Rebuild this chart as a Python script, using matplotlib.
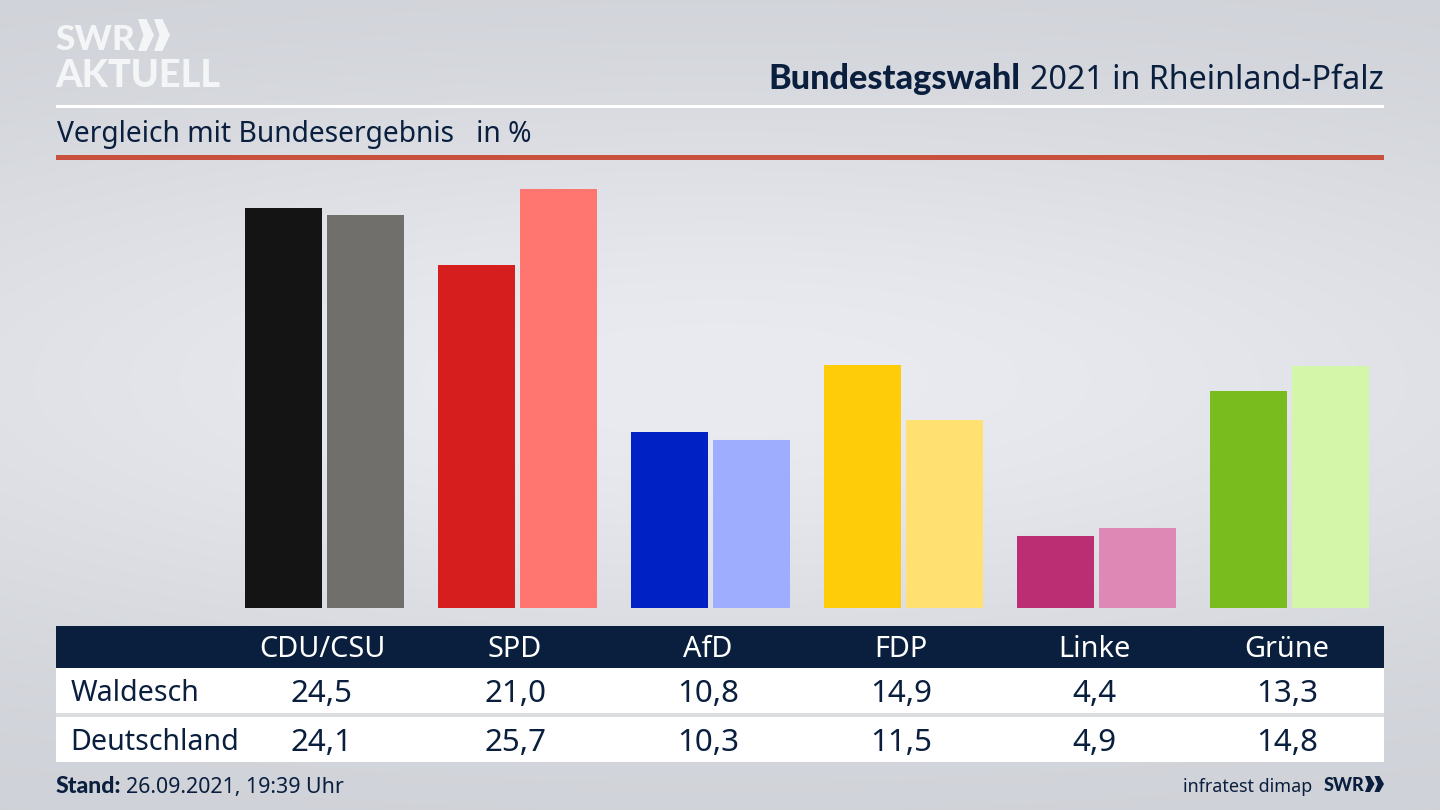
import matplotlib
matplotlib.use('Agg')
import matplotlib.pyplot as plt
import numpy as np
from matplotlib.patches import Rectangle, Polygon

parties = ['CDU/CSU', 'SPD', 'AfD', 'FDP', 'Linke', 'Grüne']
waldesch = [24.5, 21.0, 10.8, 14.9, 4.4, 13.3]
deutschland = [24.1, 25.7, 10.3, 11.5, 4.9, 14.8]
colors_waldesch = ['#141414', '#d61e1e', '#0022c4', '#ffcc0a', '#bb2e74', '#78bc1e']
colors_deutschland = ['#706f6c', '#ff7570', '#9fadff', '#ffe070', '#de88b6', '#d3f6a8']

NAVY = '#0a1f3e'
BOLD = 'Lato'
plt.rcParams['font.family'] = ['Noto Sans', 'DejaVu Sans']


def fmt(v):
    return f'{v:.1f}'.replace('.', ',')


def chevrons(ax, x, y, w, h, color):
    # double arrow of the SWR logo
    for dx in (0, w * 0.5):
        ax.add_patch(Polygon([(x + dx, y), (x + dx + w * 0.26, y), (x + dx + w * 0.5, y + h / 2),
                              (x + dx + w * 0.26, y + h), (x + dx, y + h), (x + dx + w * 0.17, y + h / 2)],
                             facecolor=color, edgecolor='none'))


def main():
    fig = plt.figure(figsize=(14.4, 8.1), dpi=100)

    # page in pixel coordinates, used for background, header and table
    bg = fig.add_axes([0, 0, 1, 1])
    yy, xx = np.mgrid[0:1:400j, 0:1:600j]
    glow = np.exp(-((yy - 0.47) / 0.36) ** 2) * np.exp(-((xx - 0.5) / 0.75) ** 2)
    edge = np.array([0xcd, 0xd0, 0xd6]) / 255
    mid = np.array([0xea, 0xeb, 0xf0]) / 255
    page = edge + glow[..., None] * (mid - edge)
    bg.imshow(page, extent=(0, 1440, 810, 0), aspect='auto', interpolation='bilinear', zorder=0)
    bg.set_xlim(0, 1440)
    bg.set_ylim(810, 0)
    bg.axis('off')

    # logo
    bg.text(55, 50, 'SWR', color='#f4f5f6', fontsize=25.5, fontweight='black', va='baseline', family=BOLD)
    chevrons(bg, 138, 19, 32, 32, '#f4f5f6')
    bg.text(55, 87, 'AKTUELL', color='#f4f5f6', fontsize=27.3, fontweight='black', va='baseline', family=BOLD)

    # titles
    bg.text(1384, 89, '2021 in Rheinland-Pfalz', color=NAVY, fontsize=23.2, ha='right', va='baseline')
    bg.text(1020, 89, 'Bundestagswahl', color=NAVY, fontsize=24.7, fontweight='black', ha='right', va='baseline', family=BOLD)
    bg.add_patch(Rectangle((56, 105), 1328, 2.5, facecolor='white', edgecolor='none'))
    bg.text(57, 142, 'Vergleich mit Bundesergebnis   in %', color=NAVY, fontsize=20.3, va='baseline')
    bg.add_patch(Rectangle((56, 155), 1328, 5, facecolor='#c8503c', edgecolor='none'))

    # bars
    ax = fig.add_axes([56 / 1440, 1 - 608 / 810, 1328 / 1440, (608 - 170) / 810])
    ax.patch.set_alpha(0)
    ax.set_xlim(-1.391, 5.49)
    ax.set_ylim(0, 438 / 16.32)
    x = np.arange(len(parties))
    ax.bar(x - 0.2124, waldesch, width=0.399, color=colors_waldesch)
    ax.bar(x + 0.2124, deutschland, width=0.399, color=colors_deutschland)
    ax.axis('off')

    # table below the bars
    bg.add_patch(Rectangle((56, 626), 1328, 42, facecolor=NAVY, edgecolor='none'))
    bg.add_patch(Rectangle((56, 668), 1328, 45, facecolor='white', edgecolor='none'))
    bg.add_patch(Rectangle((56, 713), 1328, 4, facecolor='#dcdde0', edgecolor='none'))
    bg.add_patch(Rectangle((56, 717), 1328, 45, facecolor='white', edgecolor='none'))
    bg.text(71, 701, 'Waldesch', color=NAVY, fontsize=20.6, va='baseline')
    bg.text(70, 750, 'Deutschland', color=NAVY, fontsize=20.6, va='baseline')
    for i, party in enumerate(parties):
        cx = 322 + 193 * i
        bg.text(cx, 657, party, color='white', fontsize=20.8, ha='center', va='baseline')
        bg.text(cx, 702, fmt(waldesch[i]), color=NAVY, fontsize=22.5, ha='center', va='baseline')
        bg.text(cx, 751, fmt(deutschland[i]), color=NAVY, fontsize=22.5, ha='center', va='baseline')

    # footer
    bg.text(56, 793, 'Stand:', color=NAVY, fontsize=16.6, fontweight='black', va='baseline', family=BOLD)
    bg.text(126, 793, '26.09.2021, 19:39 Uhr', color=NAVY, fontsize=15.4, va='baseline')
    bg.text(1312, 792, 'infratest dimap', color=NAVY, fontsize=12.9, ha='right', va='baseline')
    bg.text(1324, 791, 'SWR', color=NAVY, fontsize=13, fontweight='black', va='baseline', family=BOLD)
    chevrons(bg, 1365, 776, 19, 16, NAVY)

    fig.savefig('out.png', dpi=100)


if __name__ == '__main__':
    main()
